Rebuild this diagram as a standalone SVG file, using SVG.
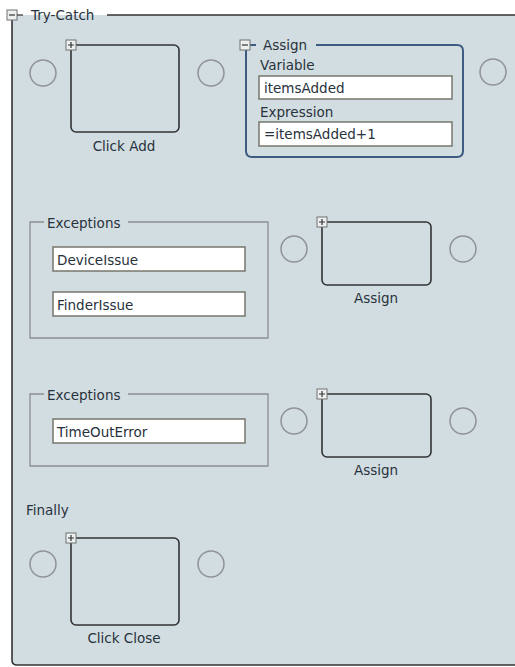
<svg xmlns="http://www.w3.org/2000/svg" width="515" height="667" viewBox="0 0 515 667">
<defs>
<style>
text{font-family:"DejaVu Sans",Verdana,sans-serif;font-size:13.5px;fill:#28323c}
.lbl{text-anchor:middle}
.circ{fill:none;stroke:#8f9396;stroke-width:1.5}
.act{fill:none;stroke:#333;stroke-width:1.6}
.tog{fill:#eef0f0;stroke:#6f7272;stroke-width:1}
.tl{stroke:#333;stroke-width:1.2}
.inp{fill:#fff;stroke:#77766c;stroke-width:1.5}
.frame{fill:none;stroke:#8c8f90;stroke-width:1.3}
</style>
<g id="plus">
<rect class="tog" x="0" y="0" width="10" height="10"/>
<path class="tl" d="M2 5H8M5 2V8"/>
</g>
<g id="minus">
<rect class="tog" x="0" y="0" width="10" height="10"/>
<path class="tl" d="M2 5H8"/>
</g>
</defs>
<rect width="515" height="667" fill="#fff"/>
<g id="trycatch">
<path d="M12 15H520V665H17Q12 665 12 660Z" fill="#d2dde1"/>
<path d="M12 20V660Q12 665 17 665H520M107 15H520" fill="none" stroke="#333" stroke-width="1.6"/>
<use href="#minus" x="7" y="10"/>
<path d="M17 15H23" stroke="#333" stroke-width="1.2"/>
<text x="31" y="20">Try-Catch</text>
</g>
<g id="connectors"></g>
<g id="clickadd">
<circle class="circ" cx="43" cy="73" r="13"/>
<rect class="act" x="71" y="45" width="108" height="87" rx="5"/>
<use href="#plus" x="66" y="40"/>
<circle class="circ" cx="211" cy="73" r="13"/>
<text class="lbl" x="124" y="151">Click Add</text>
</g>
<g id="assign1">
<path d="M256 45H250Q246 45 246 51V151Q246 157 252 157H457Q463 157 463 151V51Q463 45 457 45H316" fill="none" stroke="#3e5c82" stroke-width="2"/>
<use href="#minus" x="240" y="40"/>
<text x="263" y="50">Assign</text>
<text x="260" y="70">Variable</text>
<rect class="inp" x="259" y="76" width="193" height="23"/>
<text x="264" y="93">itemsAdded</text>
<text x="260" y="117">Expression</text>
<rect class="inp" x="259" y="122" width="193" height="24"/>
<text x="264" y="139">=itemsAdded+1</text>
<circle class="circ" cx="493" cy="72" r="13"/>
</g>
<g id="exceptions1">
<path class="frame" d="M44 222H30V338H268V222H128"/>
<text x="47" y="228">Exceptions</text>
<rect class="inp" x="53" y="247" width="192" height="24"/>
<text x="57" y="265">DeviceIssue</text>
<rect class="inp" x="53" y="292" width="192" height="24"/>
<text x="57" y="310">FinderIssue</text>
</g>
<g id="assign2">
<circle class="circ" cx="294" cy="249" r="13"/>
<rect class="act" x="322" y="222" width="109" height="63" rx="5"/>
<use href="#plus" x="317" y="217"/>
<circle class="circ" cx="463" cy="249" r="13"/>
<text class="lbl" x="376" y="303">Assign</text>
</g>
<g id="exceptions2">
<path class="frame" d="M44 394H30V466H268V394H128"/>
<text x="47" y="400">Exceptions</text>
<rect class="inp" x="53" y="419" width="192" height="24"/>
<text x="57" y="437">TimeOutError</text>
</g>
<g id="assign3">
<circle class="circ" cx="294" cy="421" r="13"/>
<rect class="act" x="322" y="394" width="109" height="63" rx="5"/>
<use href="#plus" x="317" y="389"/>
<circle class="circ" cx="463" cy="421" r="13"/>
<text class="lbl" x="376" y="475">Assign</text>
</g>
<g id="finally">
<text x="26" y="515">Finally</text>
</g>
<g id="clickclose">
<circle class="circ" cx="43" cy="564" r="13"/>
<rect class="act" x="71" y="538" width="108" height="87" rx="5"/>
<use href="#plus" x="66" y="533"/>
<circle class="circ" cx="211" cy="564" r="13"/>
<text class="lbl" x="124" y="643">Click Close</text>
</g>
</svg>
